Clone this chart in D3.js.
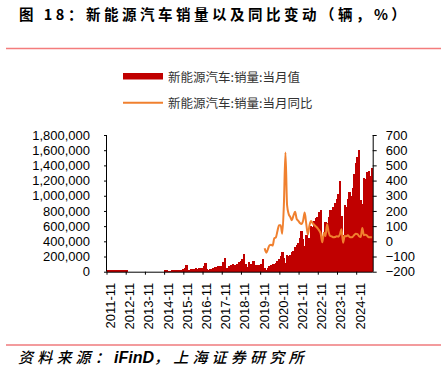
<!DOCTYPE html>
<html>
<head>
<meta charset="utf-8">
<script src="https://cdn.jsdelivr.net/npm/d3@7"></script>
<style>
  body { margin: 0; background: #fff; }
  svg text { font-family: "Liberation Sans", Arial, sans-serif; }
  .cjk { font-family: "Noto Sans CJK SC", sans-serif; }
</style>
</head>
<body>
<svg id="chart" width="446" height="373"></svg>
<script>
// months 2011-11 .. 2025-08
const months = d3.utcMonths(new Date(Date.UTC(2011, 10, 1)), new Date(Date.UTC(2025, 8, 1)))
    .map(d3.utcFormat("%Y-%m"));

// monthly NEV sales (units)
const sales2011_2012 = [18000, 17000, 16000, 18000, 17000, 18000, 18000, 17000, 18000, 18000, 19000, 18000, 19000];
const salesGap = new Array(23).fill(null); // 2012-12 .. 2014-10 no data
const sales2014 = [20000, 27000];
const sales2015 = [14000, 13000, 16000, 17000, 17000, 22000, 20000, 22000, 27000, 38000, 48000, 92000];
const sales2016 = [24000, 18000, 33000, 36000, 38000, 48000, 42000, 44000, 50000, 52000, 75000, 112000];
const sales2017 = [42000, 22000, 38000, 40000, 50000, 68000, 60000, 70000, 80000, 78000, 125000, 176000];
const sales2018 = [55000, 40000, 70000, 85000, 105000, 90000, 88000, 105000, 125000, 140000, 172000, 237000];
const sales2019 = [100000, 58000, 128000, 100000, 106000, 135000, 84000, 88000, 84000, 78000, 98000, 165000];
const sales2020 = [46000, 20000, 55000, 74000, 84000, 106000, 100000, 110000, 140000, 162000, 202000, 255000];
const sales2021 = [179000, 110000, 226000, 206000, 217000, 256000, 271000, 321000, 357000, 383000, 450000, 531000];
const sales2022 = [431000, 334000, 484000, 299000, 447000, 596000, 593000, 666000, 708000, 714000, 786000, 814000];
const sales2023 = [408000, 525000, 653000, 636000, 717000, 806000, 780000, 846000, 904000, 956000, 1026000, 1191000];
const sales2024 = [729000, 477000, 883000, 850000, 955000, 1049000, 991000, 1100000, 1287000, 1430000, 1512000, 1596000];
const sales2025 = [944000, 890000, 1237000, 1226000, 1307000, 1329000, 1262000, 1370000];

// YoY (%), from 2020-01
const yoyStart = "2020-01";
const yoy = [
  -46, -75, -53, -26, -23, -28, 19, 26, 68, 105, 105, 50,
  238, 585, 239, 180, 160, 139, 170, 194, 148, 135, 121, 114,
  135, 189, 114, 45, 105, 133, 119, 108, 98, 87, 72, 52,
  -6, 56, 35, 113, 60, 35, 32, 27, 28, 34, 30, 46,
  79, -9, 35, 33, 40, 30, 27, 30, 42, 50, 47, 34,
  29, 87, 40, 44, 37, 27, 27, 27
];

const leftTicks = [0, 200000, 400000, 600000, 800000, 1000000, 1200000, 1400000, 1600000, 1800000];
const rightTicks = [-200, -100, 0, 100, 200, 300, 400, 500, 600, 700];
const xTickLabels = ["2011-11", "2012-11", "2013-11", "2014-11", "2015-11", "2016-11", "2017-11",
                     "2018-11", "2019-11", "2020-11", "2021-11", "2022-11", "2023-11", "2024-11"];

const sales = [].concat(sales2011_2012, salesGap, sales2014, sales2015, sales2016, sales2017,
    sales2018, sales2019, sales2020, sales2021, sales2022, sales2023, sales2024, sales2025);
const barData = months.map((m, i) => ({ month: m, value: sales[i] }));
const y0 = months.indexOf(yoyStart);
const lineData = yoy.map((v, i) => ({ month: months[y0 + i], value: v }));

const svg = d3.select("#chart");
const plotL = 107, plotR = 372.7, plotT = 135, plotB = 271.7;

const x = d3.scaleBand().domain(months).range([plotL, plotR]).padding(0);
const y = d3.scaleLinear().domain([0, 1800000]).range([plotB, plotT]);
const y2 = d3.scaleLinear().domain([-200, 700]).range([plotB, plotT]);
const bw = x.bandwidth();

// title
svg.append("text").attr("class", "cjk")
    .attr("x", 19).attr("y", 20)
    .attr("font-size", 14.5).attr("font-weight", "bold")
    .attr("letter-spacing", 3.5)
    .text("图 18：新能源汽车销量以及同比变动（辆，%）");
svg.append("line").attr("x1", 6).attr("x2", 441).attr("y1", 48.5).attr("y2", 48.5)
    .attr("stroke", "#f47c7c").attr("stroke-width", 1.5);

// legend
svg.append("rect").attr("x", 123).attr("y", 73).attr("width", 40).attr("height", 6.5).attr("fill", "#c00000");
svg.append("text").attr("class", "cjk").attr("x", 168).attr("y", 76.5)
    .attr("dominant-baseline", "central").attr("font-size", 12.5).attr("fill", "#333")
    .text("新能源汽车:销量:当月值");
svg.append("line").attr("x1", 123).attr("x2", 163).attr("y1", 102.7).attr("y2", 102.7)
    .attr("stroke", "#f0802f").attr("stroke-width", 2);
svg.append("text").attr("class", "cjk").attr("x", 168).attr("y", 102.7)
    .attr("dominant-baseline", "central").attr("font-size", 12.5).attr("fill", "#333")
    .text("新能源汽车:销量:当月同比");

// bars (slightly widened so neighbours overlap, no hairline gaps)
svg.append("g").attr("shape-rendering", "crispEdges").selectAll("rect")
    .data(barData.filter(d => d.value != null))
    .join("rect")
    .attr("x", d => x(d.month) - 0.3)
    .attr("width", bw + 0.9)
    .attr("y", d => y(d.value))
    .attr("height", d => y(0) - y(d.value))
    .attr("fill", "#c00000");

// yoy line
const line = d3.line()
    .x(d => x(d.month) + bw / 2)
    .y(d => y2(d.value))
    .curve(d3.curveMonotoneX);
svg.append("path").datum(lineData)
    .attr("d", line)
    .attr("fill", "none")
    .attr("stroke", "#f0802f")
    .attr("stroke-width", 2);

// axes
const yAxis = svg.append("g").attr("transform", `translate(${plotL},0)`)
    .call(d3.axisLeft(y).tickValues(leftTicks).tickFormat(d3.format(",")).tickSize(3).tickPadding(14));
const yAxis2 = svg.append("g").attr("transform", `translate(${plotR},0)`)
    .call(d3.axisRight(y2).tickValues(rightTicks).tickSize(4).tickPadding(9));
const xAxis = svg.append("g").attr("transform", `translate(${-bw / 2},${plotB})`)
    .call(d3.axisBottom(x).tickValues(xTickLabels).tickSize(3).tickSizeOuter(0));

[yAxis, yAxis2, xAxis].forEach(g => {
    g.selectAll(".domain").attr("stroke", "#000");
    g.selectAll(".tick line").attr("stroke", "#000");
    g.selectAll("text").attr("font-size", 13).attr("fill", "#000")
        .attr("font-family", "'Liberation Sans', Arial, sans-serif");
});
yAxis.select(".domain").attr("d", `M-0.5,${plotT}V${plotB}`);
yAxis2.select(".domain").attr("d", `M0.5,${plotT}V${plotB}`);
xAxis.select(".domain").attr("d", `M${plotL + bw / 2},0.5H${plotR + bw / 2}`);

xAxis.selectAll(".tick text")
    .attr("transform", "rotate(-90)")
    .attr("text-anchor", "end")
    .attr("dominant-baseline", "central")
    .attr("x", -11).attr("y", 3.5).attr("dy", null);

// footer
svg.append("line").attr("x1", 6).attr("x2", 441).attr("y1", 345).attr("y2", 345)
    .attr("stroke", "#e8383d").attr("stroke-width", 1.2);
const foot = svg.append("text").attr("x", 18).attr("y", 363)
    .attr("font-size", 15).attr("font-style", "italic");
foot.append("tspan").attr("class", "cjk").attr("font-weight", 500).attr("letter-spacing", 4.2).text("资料来源：");
foot.append("tspan").attr("font-weight", "bold").attr("font-size", 16)
    .attr("font-family", "'Liberation Sans', Arial, sans-serif").text("iFinD");
foot.append("tspan").attr("class", "cjk").attr("font-weight", 500).attr("letter-spacing", 4.2).text("，上海证券研究所");
</script>
</body>
</html>
